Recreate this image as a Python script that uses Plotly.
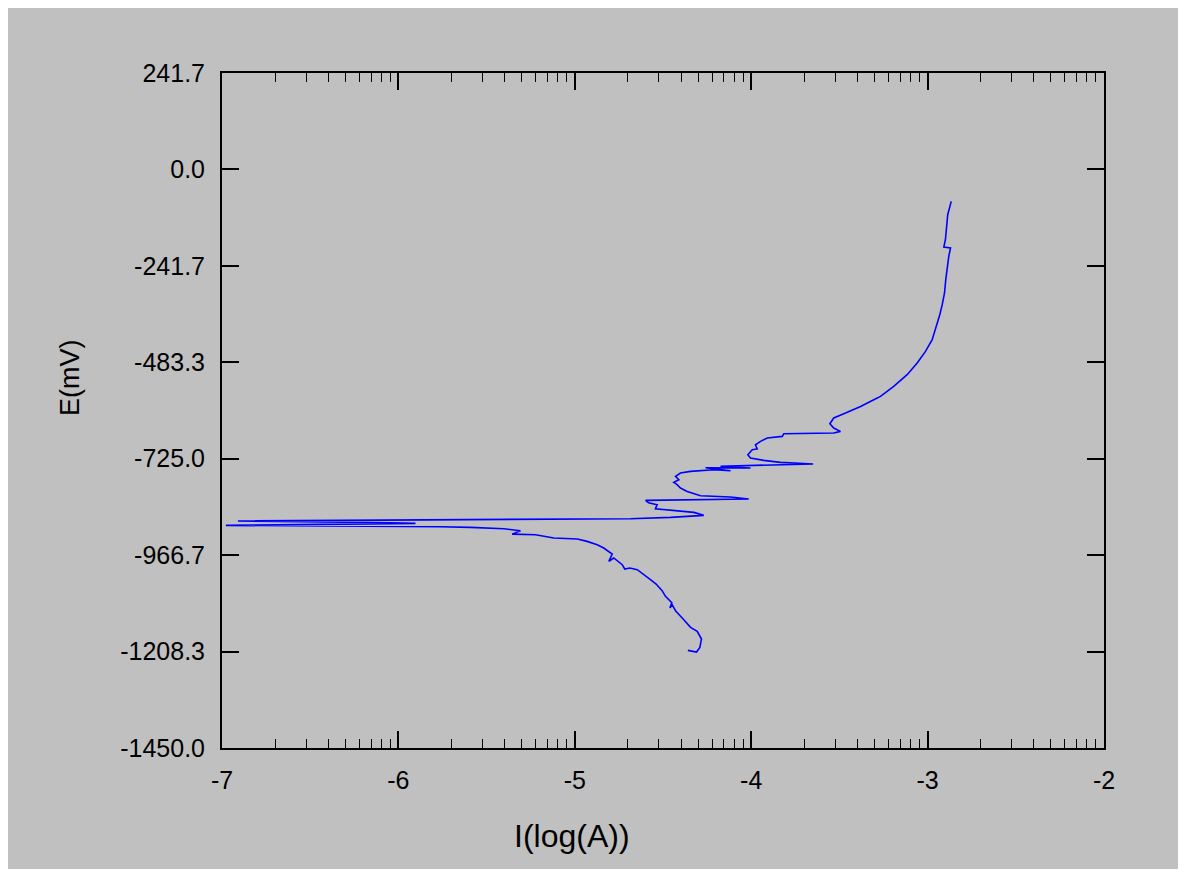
import math
import plotly.graph_objects as go

# Polarization curve (log current vs potential), traced in scan order
log_i = [-4.359, -4.310, -4.291, -4.282, -4.306, -4.344, -4.382, -4.429, -4.448, -4.461,
         -4.450, -4.486, -4.505, -4.539, -4.571, -4.609, -4.646, -4.688, -4.717, -4.731,
         -4.779, -4.807, -4.788, -4.836, -4.873, -4.930, -4.986, -5.119, -5.185, -5.223,
         -5.355, -5.308, -5.402, -5.488, -5.591, -5.761, -6.073, -6.555, -6.978, -5.903,
         -6.045, -6.910, -4.684, -4.457, -4.269, -4.325, -4.496, -4.543, -4.533, -4.582,
         -4.599, -4.014, -4.117, -4.287, -4.363, -4.401, -4.420, -4.439, -4.410, -4.429,
         -4.401, -4.344, -4.212, -4.117, -4.259, -4.004, -4.174, -3.649, -3.834, -3.929,
         -4.004, -4.019, -3.994, -3.966, -3.976, -3.947, -3.909, -3.824, -3.815, -3.532,
         -3.494, -3.532, -3.554, -3.532, -3.475, -3.418, -3.380, -3.305, -3.267, -3.192,
         -3.116, -3.059, -3.012, -2.974, -2.950, -2.931, -2.917, -2.904, -2.897, -2.889,
         -2.880, -2.870, -2.908, -2.899, -2.893, -2.886, -2.866]
E_mV = [-1205.4, -1209.4, -1197.9, -1176.8, -1157.8, -1147.7, -1128.4, -1105.9, -1090.9, -1099.1,
        -1086.0, -1070.0, -1055.8, -1039.0, -1028.2, -1015.7, -1003.1, -998.9, -1001.4, -990.6,
        -973.8, -982.3, -963.8, -948.7, -940.5, -932.2, -926.2, -923.7, -917.9, -915.4,
        -914.0, -905.4, -900.4, -898.6, -897.1, -895.4, -894.1, -892.9, -892.1, -887.1,
        -885.3, -881.1, -875.3, -872.1, -867.0, -859.5, -852.8, -850.3, -840.2, -835.2,
        -829.5, -825.9, -820.9, -817.7, -806.9, -798.4, -790.1, -784.3, -777.6, -769.3,
        -760.8, -756.8, -752.5, -755.0, -747.5, -748.3, -743.7, -738.2, -734.2, -729.2,
        -723.2, -714.9, -702.4, -700.6, -689.9, -681.6, -673.1, -669.1, -662.3, -660.5,
        -656.5, -648.0, -637.2, -622.9, -612.2, -602.1, -593.9, -577.1, -568.8, -543.7,
        -514.4, -485.1, -456.0, -426.7, -393.4, -364.0, -339.0, -309.7, -276.3, -243.0,
        -217.9, -196.9, -194.4, -176.1, -142.8, -113.4, -80.1]

y_ticks = [241.7, 0.0, -241.7, -483.3, -725.0, -966.7, -1208.3, -1450.0]
y_ticktext = ["241.7", "0.0", "-241.7", "-483.3", "-725.0", "-966.7", "-1208.3", "-1450.0"]
x_ticks = [-7, -6, -5, -4, -3, -2]
x_ticktext = ["-7", "-6", "-5", "-4", "-3", "-2"]

x_minor = [d + math.log10(k) for d in range(-7, -2) for k in range(2, 10)]

GREY = "#C0C0C0"
FONT = "Arial, Liberation Sans, sans-serif"

fig = go.Figure()
fig.add_trace(go.Scatter(x=log_i, y=E_mV, mode="lines",
                         line=dict(color="#0000FF", width=1.6), showlegend=False))

# page places the figure at (8, 8); figure spans the grey area
W, H = 1170, 861
L, R, T, B = 214, 74, 65, 121
pw, ph = W - L - R, H - T - B

def px2paper_x(px):   # px in screenshot coordinates
    return (px - 8 - L) / pw

def px2paper_y(py):
    return (H - B - (py - 8)) / ph

fig.update_layout(
    width=W, height=H,
    margin=dict(l=L, r=R, t=T, b=B, pad=0),
    paper_bgcolor=GREY, plot_bgcolor=GREY,
    font=dict(family=FONT, color="black", size=25),
    xaxis=dict(range=[-7, -2], tickmode="array", tickvals=x_ticks, ticktext=x_ticktext,
               ticks="inside", ticklen=17, tickwidth=2, tickcolor="black",
               showline=True, linecolor="black", linewidth=2, mirror="ticks",
               showgrid=False, zeroline=False, ticklabelstandoff=9,
               tickfont=dict(size=25, family=FONT),
               minor=dict(tickmode="array", tickvals=x_minor, ticks="inside",
                          ticklen=9, tickwidth=1, tickcolor="black", showgrid=False)),
    yaxis=dict(range=[-1450, 241.7], tickmode="array", tickvals=y_ticks, ticktext=y_ticktext,
               ticks="inside", ticklen=17, tickwidth=2, tickcolor="black",
               showline=True, linecolor="black", linewidth=2, mirror="ticks",
               showgrid=False, zeroline=False, ticklabelstandoff=10,
               tickfont=dict(size=25, family=FONT)),
    annotations=[
        dict(text="E(mV)", xref="paper", yref="paper", x=px2paper_x(70), y=px2paper_y(378),
             textangle=-90, showarrow=False, font=dict(size=27, family=FONT),
             xanchor="center", yanchor="middle"),
        dict(text="I(log(A))", xref="paper", yref="paper", x=px2paper_x(572), y=px2paper_y(836),
             showarrow=False, font=dict(size=32, family=FONT),
             xanchor="center", yanchor="middle"),
    ],
)

fig.write_html("out.html")
